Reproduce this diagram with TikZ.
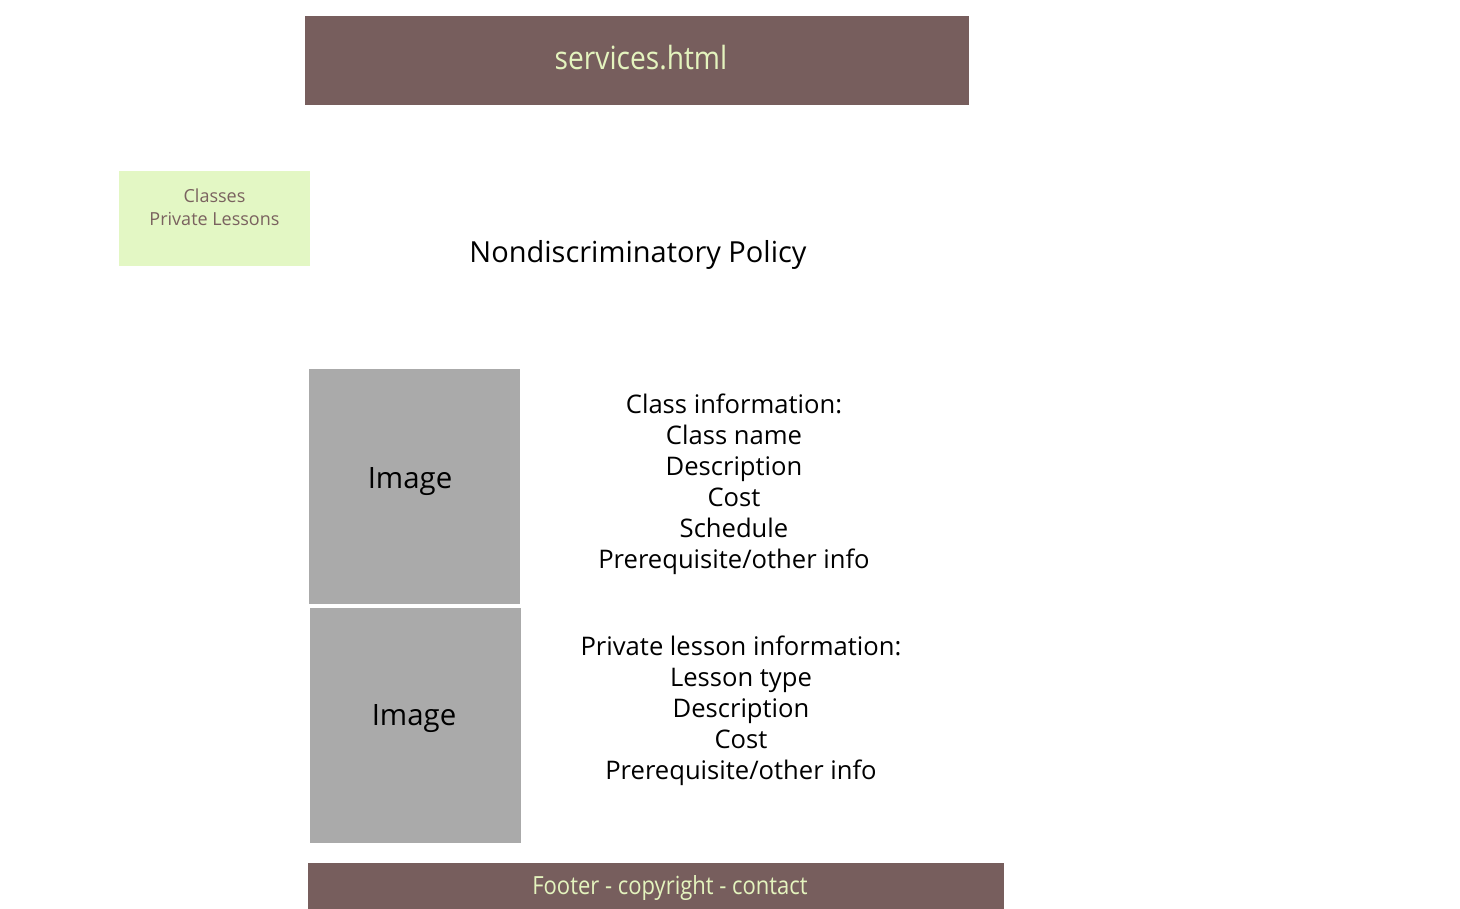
\documentclass[tikz,border=0pt]{standalone}
\usepackage{fontspec}
\setmainfont{Open Sans}
\newfontfamily\condfont[FakeStretch=0.88]{Open Sans}
\definecolor{wbrown}{HTML}{775E5D}
\definecolor{wlime}{HTML}{E3F7C4}
\definecolor{wcream}{HTML}{E4F4BE}
\definecolor{wnavtext}{HTML}{7A625F}
\definecolor{wgray}{HTML}{AAAAAA}
\usetikzlibrary{positioning}
\tikzset{
  bar/.style={fill=wbrown, text=wcream, inner sep=0pt, font=\condfont},
  imgbox/.style={fill=wgray, inner sep=0pt, minimum width=211pt, minimum height=235pt},
  imglabel/.style={font=\fontsize{29.4}{34}\selectfont},
  infotext/.style={align=center, inner sep=0pt, font=\fontsize{25.6}{31}\selectfont}
}

\begin{document}
\begin{tikzpicture}[x=1pt, y=-1pt]
  \useasboundingbox (0,0) rectangle (1460,909);

  % header and side nav
  \node[bar, minimum width=664pt, minimum height=89pt] (header) at (637,60.5) {};
  \node[text=wcream, font=\condfont\fontsize{32}{36}\selectfont] (title) at (641,58) {services.html};
  \node[fill=wlime, text=wnavtext, minimum width=191pt, minimum height=95pt, inner sep=0pt] (nav) at (214.5,218.5) {};
  \node[text=wnavtext, align=center, font=\fontsize{18}{23}\selectfont] (navtext) at (214.5,207) {Classes\\Private Lessons};

  \node[font=\fontsize{29}{34}\selectfont] (policy) at (638,255) {Nondiscriminatory Policy};

  % the two content rows
  \node[imgbox] (img1) at (414.5,486.5) {};
  \node[imglabel] (img1label) at (410,482) {Image};
  \node[imgbox] (img2) at (415.5,725.5) {};
  \node[imglabel] (img2label) at (414,719) {Image};

  \node[infotext] (classinfo) at (734,484.5) {Class information:\\Class name\\Description\\Cost\\Schedule\\Prerequisite/other info};
  \node[infotext] (lessoninfo) at (741,711) {Private lesson information:\\Lesson type\\Description\\Cost\\Prerequisite/other info};

  % footer
  \node[bar, minimum width=696pt, minimum height=46pt] (footer) at (656,886) {};
  \node[text=wcream, font=\condfont\fontsize{25}{28}\selectfont] (footertext) at (670,888) {Footer - copyright - contact};
\end{tikzpicture}
\end{document}
